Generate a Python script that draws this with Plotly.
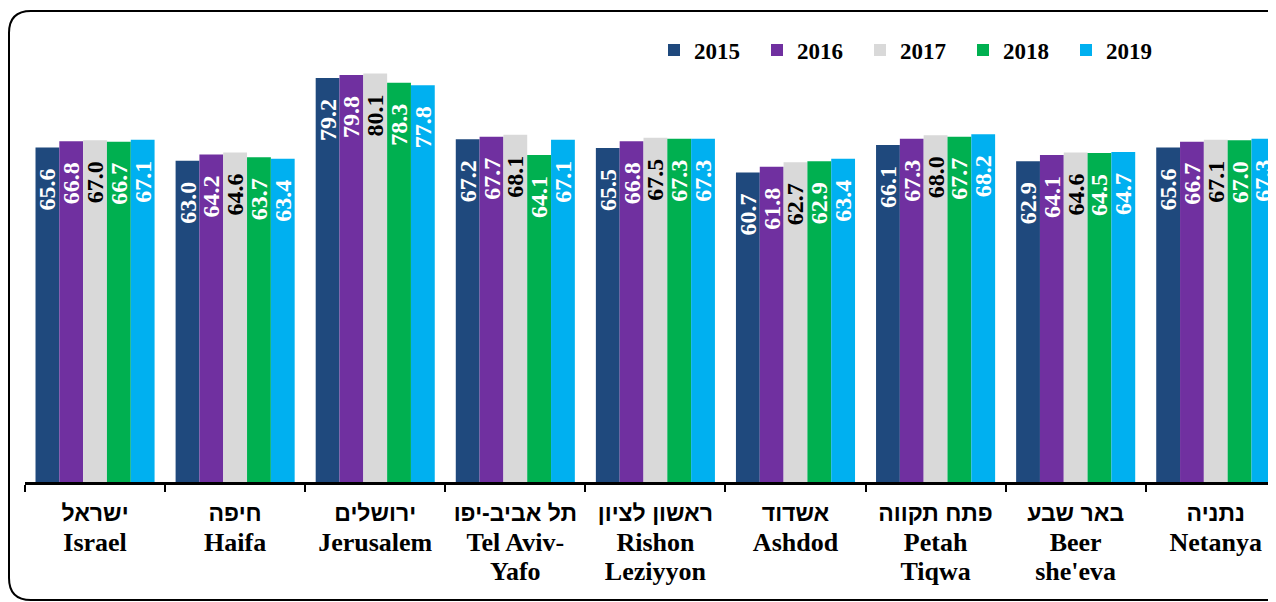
import plotly.graph_objects as go

years = ["2015", "2016", "2017", "2018", "2019"]
cities_he = ["ישראל", "חיפה", "ירושלים", "תל אביב-יפו", "ראשון לציון", "אשדוד", "פתח תקווה", "באר שבע", "נתניה"]
cities_en = [["Israel"], ["Haifa"], ["Jerusalem"], ["Tel Aviv-", "Yafo"], ["Rishon", "Leziyyon"],
             ["Ashdod"], ["Petah", "Tiqwa"], ["Beer", "she'eva"], ["Netanya"]]

v2015 = [65.6, 63.0, 79.2, 67.2, 65.5, 60.7, 66.1, 62.9, 65.6]
v2016 = [66.8, 64.2, 79.8, 67.7, 66.8, 61.8, 67.3, 64.1, 66.7]
v2017 = [67.0, 64.6, 80.1, 68.1, 67.5, 62.7, 68.0, 64.6, 67.1]
v2018 = [66.7, 63.7, 78.3, 64.1, 67.3, 62.9, 67.7, 64.5, 67.0]
v2019 = [67.1, 63.4, 77.8, 67.1, 67.3, 63.4, 68.2, 64.7, 67.3]

values = [v2015, v2016, v2017, v2018, v2019]
colors = ["#1F497D", "#7030A0", "#D9D9D9", "#00B050", "#00B0F0"]
text_colors = ["white", "white", "black", "white", "white"]

# page body has an 8px margin: compensate so that screen positions match
OX, OY = 8, 8
W, H = 1276 - OX, 602 - OY
ML, MR, MT, MB = 25 - OX, 0, 23 - OY, 120
PW = W - ML - MR
PH = H - MT - MB

def label(he, en_lines):
    parts = [f"<span style='font-family:Liberation Sans;font-size:23px'>{he}</span>"]
    parts += [f"<span style='font-size:26px'>{ln}</span>" for ln in en_lines]
    return "<br>".join(parts)

cats = [label(he, en) for he, en in zip(cities_he, cities_en)]

fig = go.Figure()
for yr, vals, col, tcol in zip(years, values, colors, text_colors):
    fig.add_trace(go.Bar(
        name=yr, x=cats, y=vals,
        marker=dict(color=col, line=dict(width=0)),
        texttemplate="%{y:.1f}\u00a0\u00a0\u00a0",
        textposition="inside", insidetextanchor="end", textangle=-90,
        constraintext="none",
        textfont=dict(family="Liberation Serif", size=24, color=tcol, weight="bold"),
        hoverinfo="skip",
    ))

def px_x(p):
    # screen pixel -> paper
    return (p - OX - ML) / PW

def px_y(p):
    return (H - MB - (p - OY)) / PH

# rounded border (screen pixels)
L, T, R, B, r = 9, 11, 1290, 600, 22
path = (f"M {px_x(L)},{px_y(T + r)} Q {px_x(L)},{px_y(T)} {px_x(L + r)},{px_y(T)} "
        f"L {px_x(R - r)},{px_y(T)} Q {px_x(R)},{px_y(T)} {px_x(R)},{px_y(T + r)} "
        f"L {px_x(R)},{px_y(B - r)} Q {px_x(R)},{px_y(B)} {px_x(R - r)},{px_y(B)} "
        f"L {px_x(L + r)},{px_y(B)} Q {px_x(L)},{px_y(B)} {px_x(L)},{px_y(B - r)} Z")

fig.update_layout(
    width=W, height=H,
    margin=dict(l=ML, r=MR, t=MT, b=MB, autoexpand=False),
    paper_bgcolor="white", plot_bgcolor="white",
    barmode="group", bargap=0.15, bargroupgap=0,
    showlegend=True,
    legend=dict(orientation="h", x=px_x(654), xanchor="left", y=px_y(50), yanchor="middle",
                font=dict(family="Liberation Serif", size=23, color="black", weight="bold"),
                entrywidth=58, entrywidthmode="pixels", itemwidth=30,
                bgcolor="rgba(0,0,0,0)", traceorder="normal"),
    xaxis=dict(type="category", range=[-0.5, 8.43], tickson="boundaries",
               ticks="outside", ticklen=7, tickwidth=2, tickcolor="black",
               showline=True, linewidth=3, linecolor="black", showgrid=False,
               ticklabelstandoff=8,
               tickfont=dict(family="Liberation Serif", size=23, color="black", weight="bold"),
               fixedrange=True),
    yaxis=dict(range=[0, 90], visible=False, fixedrange=True),
    shapes=[dict(type="path", xref="paper", yref="paper", path=path,
                 line=dict(color="black", width=2), fillcolor="rgba(0,0,0,0)", layer="above")],
)

fig.write_html("out.html")
